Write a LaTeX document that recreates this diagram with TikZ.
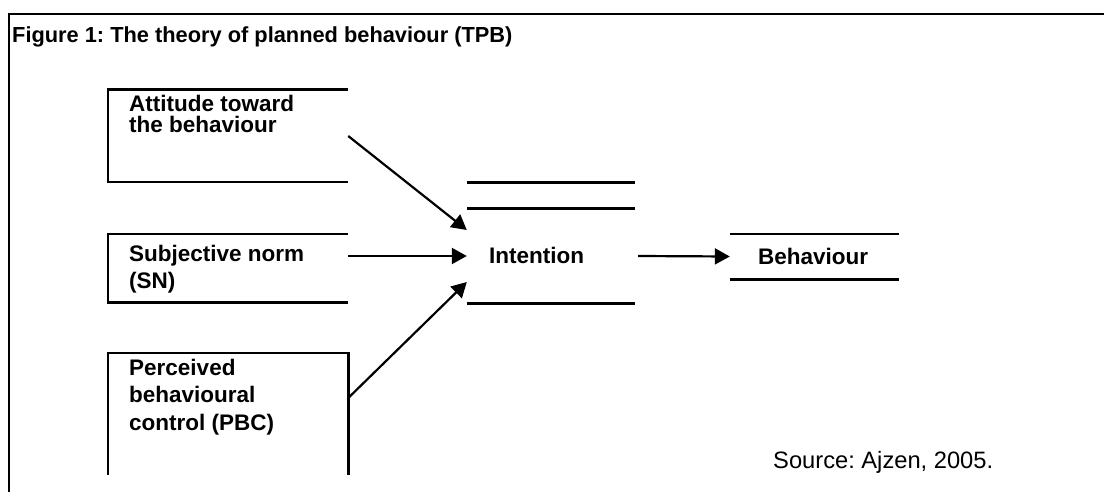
\documentclass[tikz,border=0pt]{standalone}
\usepackage{fontspec}
\setmainfont{Liberation Sans}
\usetikzlibrary{arrows.meta}
\frenchspacing

\tikzset{
  boxtext/.style={anchor=base west, align=left, inner sep=0pt, font=\bfseries\fontsize{22.5}{26.5}\selectfont},
  frame/.style={draw=none, minimum width=240pt, inner sep=0pt},
  edge/.style={line width=2.6pt},
  arr/.style={line width=2.2pt, -{Triangle[length=15pt,width=16pt]}}
}

\begin{document}
\begin{tikzpicture}[x=1pt,y=-1pt]
\useasboundingbox (0,0) rectangle (1104,492);

% outer frame, open at right and bottom
\draw[line width=2pt] (9,492) -- (9,14) -- (1104,14);
\node[anchor=base west, inner sep=0pt, font=\bfseries\fontsize{21.8}{26}\selectfont] (title) at (12,43) {Figure 1: The theory of planned behaviour (TPB)};

% left boxes (right side left open)
\node[frame, minimum height=92pt] (att) at (228,136) {};
\node[frame, minimum height=68pt] (sn) at (228,268) {};
\node[frame, minimum height=122pt] (pbc) at (228,414) {};
\draw[edge] (att.north east) -- (att.north west) -- (att.south west) -- (att.south east);
\draw[edge] (sn.north east) -- (sn.north west) -- (sn.south west) -- (sn.south east);
\draw[edge] (pbc.south west) -- (pbc.north west) -- (pbc.north east) -- (pbc.south east);

% labels: base anchor sits on the last line
\node[boxtext, font=\bfseries\fontsize{22.5}{21}\selectfont] (attlabel) at (129,133) {Attitude toward\\the behaviour};
\node[boxtext] (snlabel) at (129,288) {Subjective norm\\(SN)};
\node[boxtext, font=\bfseries\fontsize{22.5}{27.5}\selectfont] (pbclabel) at (129,430) {Perceived\\behavioural\\control (PBC)};

% intention and behaviour
\node[frame, minimum width=168pt, minimum height=94pt] (int) at (551,256) {};
\draw[edge] ([yshift=26pt]int.north west) -- ([yshift=26pt]int.north east);
\draw[edge] (int.north west) -- (int.north east);
\draw[edge] (int.south west) -- (int.south east);
\node[boxtext] (intlabel) at (489,263) {Intention};

\node[frame, minimum width=169pt, minimum height=45pt] (beh) at (814.5,256.5) {};
\draw[edge] (beh.north west) -- (beh.north east);
\draw[edge] (beh.south west) -- (beh.south east);
\node[boxtext] (behlabel) at (758,264) {Behaviour};

% arrows
\draw[arr] (att.east) -- ([yshift=26pt]int.west);
\draw[arr] (sn.east |- int.west) -- (int.west);
\draw[arr] ([yshift=16pt]pbc.east) -- ([yshift=-26pt]int.west);
\draw[arr] ([xshift=3pt]int.east) -- (beh.west);

\node[anchor=base west, inner sep=0pt, font=\fontsize{23.7}{28}\selectfont] (source) at (773,468) {Source: Ajzen, 2005.};
\end{tikzpicture}
\end{document}
